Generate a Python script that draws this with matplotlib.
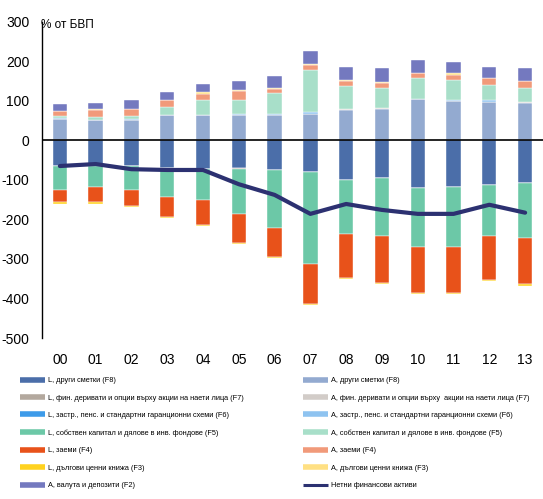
import matplotlib
matplotlib.use("Agg")
import matplotlib.pyplot as plt
from matplotlib.lines import Line2D
import numpy as np

plt.rcParams['font.family'] = ['Liberation Sans', 'DejaVu Sans']

years = ["00", "01", "02", "03", "04", "05", "06", "07", "08", "09", "10", "11", "12", "13"]

# Assets (positive), bottom -> top
a_f8 = [55, 51, 51, 63, 63, 63, 63, 67, 76, 80, 104, 99, 97, 95]
a_f7 = [0, 0, 0, 0, 0, 0, 0, 0, 4, 1, 0, 0, 0, 2]
a_f6 = [1, 1, 3, 1, 1, 3, 3, 4, 0, 0, 0, 4, 4, 0]
a_f5 = [5, 8, 8, 20, 37, 37, 53, 106, 57, 51, 53, 50, 40, 35]
a_f4 = [13, 17, 17, 17, 17, 22, 10, 13, 13, 13, 13, 13, 16, 17]
a_f3 = [1, 2, 1, 0, 3, 2, 3, 4, 3, 3, 1, 4, 1, 0]
a_f2 = [16, 16, 21, 21, 21, 23, 31, 33, 33, 34, 32, 28, 28, 33]

# Liabilities (shown negative), top -> bottom
l_f8 = [65, 66, 66, 70, 73, 70, 75, 80, 101, 96, 121, 117, 112, 108]
l_f7 = [0, 0, 0, 0, 0, 3, 0, 0, 0, 0, 0, 0, 0, 0]
l_f6 = [0, 0, 0, 0, 0, 0, 0, 0, 0, 0, 0, 0, 0, 0]
l_f5 = [60, 51, 59, 74, 79, 113, 146, 232, 137, 146, 150, 154, 130, 138]
l_f4 = [32, 40, 40, 49, 61, 74, 74, 102, 110, 118, 114, 114, 110, 118]
l_f3 = [3, 3, 3, 4, 4, 3, 3, 3, 3, 4, 4, 4, 3, 4]

net = [-65, -60, -73, -75, -75, -111, -138, -186, -161, -176, -186, -186, -163, -183]

lbl_L = ["L, други сметки (F8)",
         "L, фин. деривати и опции върху акции на наети лица (F7)",
         "L, застр., пенс. и стандартни гаранционни схеми (F6)",
         "L, собствен капитал и дялове в инв. фондове (F5)",
         "L, заеми (F4)",
         "L, дългови ценни книжа (F3)"]
lbl_A = ["A, други сметки (F8)",
         "A, фин. деривати и опции върху  акции на наети лица (F7)",
         "A, застр., пенс. и стандартни гаранционни схеми (F6)",
         "A, собствен капитал и дялове в инв. фондове (F5)",
         "A, заеми (F4)",
         "A, дългови ценни книжа (F3)"]
lbl_A2 = "A, валута и депозити (F2)"
lbl_net = "Нетни финансови активи"

col_L = ["#4B6EA9", "#B3A89E", "#3D9BE9", "#6CC8A7", "#E8521A", "#FFD21F"]
col_A = ["#93AAD0", "#D2CCC8", "#8EC3F0", "#A8DFC9", "#F19A7A", "#FFE083"]
col_A2 = "#7479BF"
col_net = "#2C3171"

fig = plt.figure(figsize=(5.43, 4.99), dpi=100)
ax = fig.add_axes([0.0773, 0.3226, 0.9227, 0.6339])

x = np.arange(len(years))
w = 0.4

pos = [a_f8, a_f7, a_f6, a_f5, a_f4, a_f3, a_f2]
pos_cols = col_A + [col_A2]
bottom = np.zeros(len(years))
for vals, c in zip(pos, pos_cols):
    v = np.array(vals, dtype=float)
    ax.bar(x, v, w, bottom=bottom, color=c, edgecolor="white", linewidth=0.3, zorder=2)
    bottom += v

neg = [l_f8, l_f7, l_f6, l_f5, l_f4, l_f3]
bottom = np.zeros(len(years))
for vals, c in zip(neg, col_L):
    v = -np.array(vals, dtype=float)
    ax.bar(x, v, w, bottom=bottom, color=c, edgecolor="white", linewidth=0.3, zorder=2)
    bottom += v

ax.plot(x, net, color=col_net, linewidth=3, zorder=4, solid_capstyle="round")
ax.axhline(0, color="black", linewidth=1.2, zorder=3)

ax.set_xlim(-0.5, 13.5)
ax.set_ylim(-500, 300)
ax.set_yticks(range(-500, 301, 100))
ax.set_yticklabels([str(t) for t in range(-500, 301, 100)], fontsize=10)
ax.set_xticks(x)
ax.set_xticklabels(years, fontsize=10)
ax.tick_params(axis="both", length=0)
ax.tick_params(axis="y", pad=9)
ax.tick_params(axis="x", pad=11)
for s in ["top", "right", "bottom"]:
    ax.spines[s].set_visible(False)
ax.spines["left"].set_linewidth(1.0)

fig.text(0.076, 0.949, "% от БВП", fontsize=8.5, va="center", ha="left")

hL = [Line2D([0], [0], color=c, lw=4, solid_capstyle="butt") for c in col_L] + \
     [Line2D([0], [0], color=col_A2, lw=4, solid_capstyle="butt")]
hA = [Line2D([0], [0], color=c, lw=4, solid_capstyle="butt") for c in col_A] + \
     [Line2D([0], [0], color=col_net, lw=2.2, solid_capstyle="butt")]

common = dict(frameon=False, fontsize=5.3, handlelength=3.4, handletextpad=0.45,
              labelspacing=1.4, borderpad=0, borderaxespad=0)
leg1 = fig.legend(hL, lbl_L + [lbl_A2], loc="upper left",
                  bbox_to_anchor=(20 / 543, 1 - 377 / 499), **common)
leg2 = fig.legend(hA, lbl_A + [lbl_net], loc="upper left",
                  bbox_to_anchor=(303 / 543, 1 - 377 / 499), **common)

fig.savefig("out.png", dpi=100)
